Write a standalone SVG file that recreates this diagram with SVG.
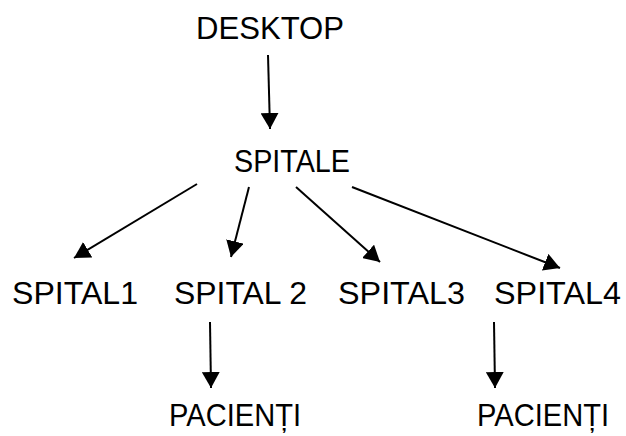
<svg xmlns="http://www.w3.org/2000/svg" width="626" height="436" viewBox="0 0 626 436">
<style>
text{font-family:"Liberation Sans",Arial,sans-serif;font-size:31px;fill:#000}
.c line{stroke:#000;stroke-width:2}
</style>
<defs>
<marker id="ah" viewBox="0 0 16 18" refX="16" refY="9" markerWidth="16" markerHeight="18" markerUnits="userSpaceOnUse" orient="auto">
<path d="M0,0 L16,9 L0,18 Z" fill="#000"/>
</marker>
</defs>
<rect width="626" height="436" fill="#fff"/>
<g id="desktop"><text x="196" y="39" textLength="148" lengthAdjust="spacingAndGlyphs">DESKTOP</text></g>
<g id="spitale"><text x="234" y="172" textLength="116" lengthAdjust="spacingAndGlyphs">SPITALE</text></g>
<g id="spital1"><text x="12" y="304" textLength="126" lengthAdjust="spacingAndGlyphs">SPITAL1</text></g>
<g id="spital2"><text x="174" y="304" textLength="133" lengthAdjust="spacingAndGlyphs">SPITAL 2</text></g>
<g id="spital3"><text x="338" y="304" textLength="127" lengthAdjust="spacingAndGlyphs">SPITAL3</text></g>
<g id="spital4"><text x="494" y="304" textLength="127" lengthAdjust="spacingAndGlyphs">SPITAL4</text></g>
<g id="pacienti1"><text x="169" y="426" textLength="132" lengthAdjust="spacingAndGlyphs">PACIENȚI</text></g>
<g id="pacienti2"><text x="477" y="426" textLength="132" lengthAdjust="spacingAndGlyphs">PACIENȚI</text></g>
<g class="c" id="connectors">
<line x1="268" y1="55" x2="270" y2="129" marker-end="url(#ah)"/>
<line x1="197" y1="184" x2="74" y2="258" marker-end="url(#ah)"/>
<line x1="249" y1="187" x2="231" y2="257" marker-end="url(#ah)"/>
<line x1="296" y1="187" x2="380" y2="262" marker-end="url(#ah)"/>
<line x1="352" y1="187" x2="560" y2="268" marker-end="url(#ah)"/>
<line x1="210" y1="322" x2="211" y2="388" marker-end="url(#ah)"/>
<line x1="494" y1="322" x2="495" y2="388" marker-end="url(#ah)"/>
</g>
</svg>
